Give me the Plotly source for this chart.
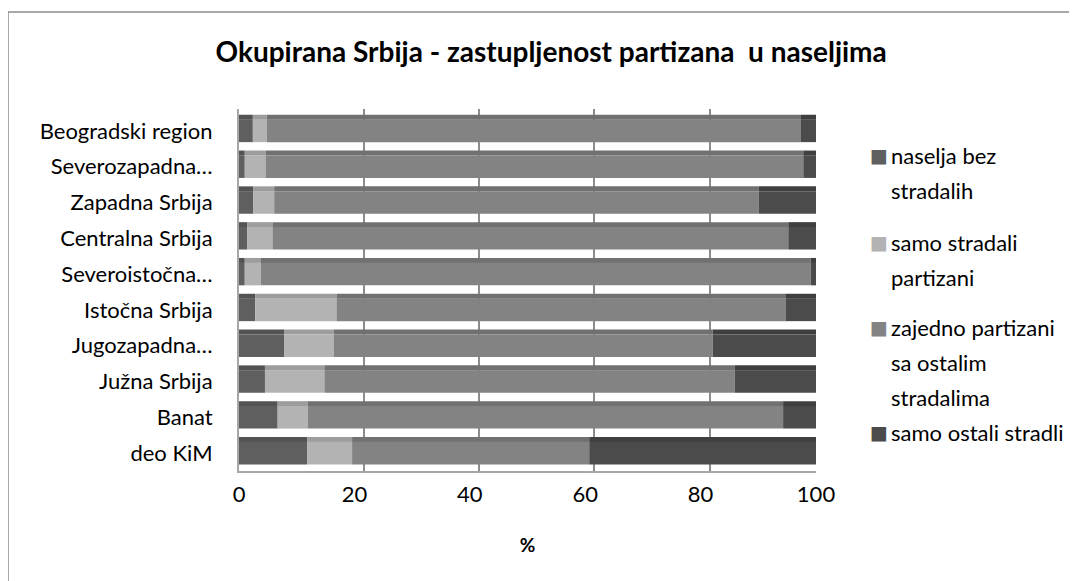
"""Okupirana Srbija - zastupljenost partizana u naseljima (stacked 100% bars)."""

import plotly.graph_objects as go

# Regions, top to bottom as in the chart
regions = [
    "Beogradski region",
    "Severozapadna…",
    "Zapadna Srbija",
    "Centralna Srbija",
    "Severoistočna…",
    "Istočna Srbija",
    "Jugozapadna…",
    "Južna Srbija",
    "Banat",
    "deo KiM",
]

# Shares in %
naselja_bez_stradalih = [2.4, 1.0, 2.5, 1.4, 1.0, 2.8, 7.8, 4.5, 6.7, 11.8]
samo_stradali_partizani = [2.4, 3.6, 3.6, 4.4, 2.8, 14.1, 8.6, 10.3, 5.2, 7.8]
zajedno_sa_ostalima = [92.6, 93.2, 84.0, 89.4, 95.3, 77.9, 65.7, 71.1, 82.4, 41.1]
samo_ostali_stradli = [2.6, 2.2, 9.9, 4.8, 0.9, 5.2, 17.9, 14.1, 5.7, 39.3]

series_names = [
    "naselja bez stradalih",
    "samo stradali partizani",
    "zajedno partizani sa ostalim stradalima",
    "samo ostali stradli",
]
legend_lines = [
    ["naselja bez", "stradalih"],
    ["samo stradali", "partizani"],
    ["zajedno partizani", "sa ostalim", "stradalima"],
    ["samo ostali stradli"],
]
x_ticks = [0, 20, 40, 60, 80, 100]

FONT = "Lato"
front_colors = ["#5f5f5f", "#b3b3b3", "#838383", "#4b4b4b"]
top_colors = ["#535353", "#9d9d9d", "#717171", "#3f3f3f"]

all_series = [
    naselja_bez_stradalih,
    samo_stradali_partizani,
    zajedno_sa_ostalima,
    samo_ostali_stradli,
]

# page body adds an 8px offset, so the figure is laid out 8px up/left
ML, MT, MR, MB = 231, 101, 269, 118
W, H = 1077, 581
plot_w, plot_h = W - ML - MR, H - MT - MB

fig = go.Figure()

base = [0.0] * len(regions)
for name, values, front, top in zip(series_names, all_series, front_colors, top_colors):
    # top face of the pseudo-3D bar
    fig.add_trace(
        go.Bar(
            y=regions,
            x=values,
            base=base,
            orientation="h",
            width=0.14,
            offset=-0.45,
            marker=dict(color=top, line=dict(width=0)),
            showlegend=False,
            hoverinfo="skip",
        )
    )
    # front face
    fig.add_trace(
        go.Bar(
            y=regions,
            x=values,
            base=base,
            orientation="h",
            width=0.63,
            offset=-0.315,
            name=name,
            marker=dict(color=front, line=dict(width=0)),
            showlegend=False,
            hovertemplate="%{y}: %{x:.1f}%<extra>" + name + "</extra>",
        )
    )
    base = [b + v for b, v in zip(base, values)]

# legend drawn as text lines so the line spacing matches (page pixels)
legend_y = [[155, 190], [242, 277], [327, 362, 397], [432]]
annotations = []
for lines, ys, color in zip(legend_lines, legend_y, front_colors):
    for k, (line, ypx) in enumerate(zip(lines, ys)):
        annotations.append(
            dict(
                text=line,
                xref="paper",
                yref="paper",
                x=(889 - 8 - ML) / plot_w,
                y=1 - (ypx - 8 - MT) / plot_h,
                xanchor="left",
                yanchor="middle",
                showarrow=False,
                font=dict(family=FONT, size=22, color="#000000"),
            )
        )
    # legend swatch
    annotations.append(
        dict(
            text="■",
            xref="paper",
            yref="paper",
            x=(868 - 8 - ML) / plot_w,
            y=1 - (ys[0] - 8 - MT) / plot_h,
            xanchor="left",
            yanchor="middle",
            showarrow=False,
            font=dict(family="DejaVu Sans", size=19, color=color),
        )
    )

fig.update_layout(
    width=W,
    height=H,
    barmode="overlay",
    title=dict(
        text="<b>Okupirana Srbija - zastupljenost partizana &nbsp;u naseljima</b>",
        x=0.541,
        xref="paper",
        xanchor="center",
        y=1 - (52 - 8) / H,
        yref="container",
        yanchor="middle",
        font=dict(family=FONT, size=28, color="#000000"),
    ),
    margin=dict(l=ML, r=MR, t=MT, b=MB),
    plot_bgcolor="white",
    paper_bgcolor="white",
    xaxis=dict(
        range=[0, 100],
        tickvals=x_ticks,
        showgrid=False,
        zeroline=False,
        showline=True,
        linecolor="#a6a6a6",
        linewidth=2,
        ticks="",
        ticklabelstandoff=3,
        tickfont=dict(family=FONT, size=22, color="#000000"),
        title=dict(
            text="<b>%</b>",
            font=dict(family=FONT, size=19, color="#000000"),
            standoff=32,
        ),
    ),
    xaxis2=dict(
        overlaying="x",
        side="top",
        range=[-1.6, 98.4],
        tickvals=[20, 40, 60, 80, 100],
        showgrid=True,
        gridcolor="#8c8c8c",
        gridwidth=2,
        showticklabels=False,
        zeroline=False,
        showline=False,
    ),
    yaxis=dict(
        autorange="reversed",
        showgrid=False,
        zeroline=False,
        showline=True,
        linecolor="#a6a6a6",
        linewidth=2,
        ticks="",
        ticklabelstandoff=20,
        tickfont=dict(family=FONT, size=22, color="#000000"),
    ),
    annotations=annotations,
    shapes=[
        # outer chart frame (cropped on the right and bottom)
        dict(
            type="rect",
            xref="paper",
            yref="paper",
            xsizemode="pixel",
            ysizemode="pixel",
            xanchor=0,
            yanchor=1,
            x0=0 - ML,
            x1=2000,
            y0=MT - 4,
            y1=-2000,
            line=dict(color="#8c8c8c", width=1.5),
            fillcolor="rgba(0,0,0,0)",
            layer="below",
        )
    ],
)

# dummy invisible trace so the shifted grid axis is drawn
fig.add_trace(
    go.Scatter(
        x=[None],
        y=[regions[0]],
        xaxis="x2",
        mode="markers",
        showlegend=False,
        hoverinfo="skip",
    )
)

fig.write_html("out.html")
